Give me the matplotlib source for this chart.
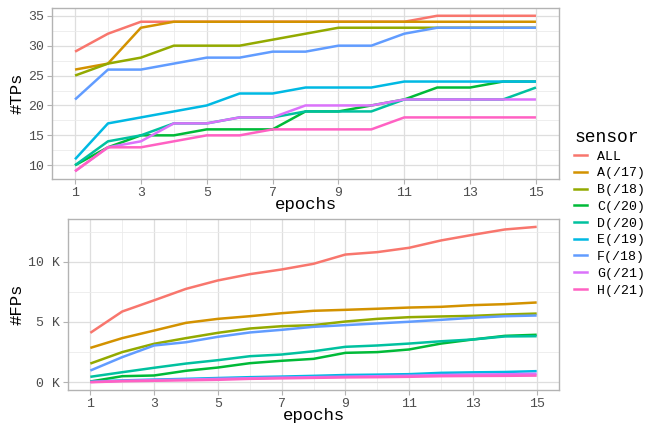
import matplotlib
matplotlib.use("Agg")
import matplotlib.pyplot as plt
from matplotlib.lines import Line2D
from matplotlib.ticker import MultipleLocator, FuncFormatter

plt.rcParams['font.family'] = ['Liberation Mono', 'DejaVu Sans Mono']

epochs = list(range(1, 16))
sensors = ['ALL', 'A(/17)', 'B(/18)', 'C(/20)', 'D(/20)', 'E(/19)', 'F(/18)', 'G(/21)', 'H(/21)']
colors = ['#F8766D', '#D39200', '#93AA00', '#00BA38', '#00C19F',
          '#00B9E3', '#619CFF', '#DB72FB', '#FF61C3']

# true positives per epoch
tps_all = [29, 32, 34, 34, 34, 34, 34, 34, 34, 34, 34, 35, 35, 35, 35]
tps_a = [26, 27, 33, 34, 34, 34, 34, 34, 34, 34, 34, 34, 34, 34, 34]
tps_b = [25, 27, 28, 30, 30, 30, 31, 32, 33, 33, 33, 33, 33, 33, 33]
tps_c = [10, 13, 15, 15, 16, 16, 16, 19, 19, 20, 21, 23, 23, 24, 24]
tps_d = [10, 14, 15, 17, 17, 18, 18, 19, 19, 19, 21, 21, 21, 21, 23]
tps_e = [11, 17, 18, 19, 20, 22, 22, 23, 23, 23, 24, 24, 24, 24, 24]
tps_f = [21, 26, 26, 27, 28, 28, 29, 29, 30, 30, 32, 33, 33, 33, 33]
tps_g = [9, 13, 14, 17, 17, 18, 18, 20, 20, 20, 21, 21, 21, 21, 21]
tps_h = [9, 13, 13, 14, 15, 15, 16, 16, 16, 16, 18, 18, 18, 18, 18]

# false positives per epoch (thousands)
fps_all = [4.1, 5.87, 6.8, 7.75, 8.45, 8.97, 9.36, 9.83, 10.6, 10.8, 11.16, 11.77, 12.24, 12.68, 12.9]
fps_a = [2.85, 3.66, 4.29, 4.93, 5.26, 5.48, 5.73, 5.93, 6.01, 6.1, 6.2, 6.26, 6.4, 6.48, 6.62]
fps_b = [1.55, 2.5, 3.19, 3.66, 4.1, 4.46, 4.65, 4.74, 5.04, 5.26, 5.4, 5.46, 5.51, 5.62, 5.7]
fps_c = [0.06, 0.5, 0.56, 0.95, 1.22, 1.58, 1.78, 1.94, 2.44, 2.5, 2.72, 3.21, 3.55, 3.85, 3.94]
fps_d = [0.45, 0.83, 1.2, 1.55, 1.83, 2.16, 2.3, 2.57, 2.94, 3.05, 3.21, 3.4, 3.55, 3.8, 3.82]
fps_e = [0.05, 0.15, 0.22, 0.28, 0.35, 0.42, 0.47, 0.53, 0.6, 0.63, 0.67, 0.78, 0.82, 0.85, 0.92]
fps_f = [0.97, 2.08, 3.05, 3.32, 3.77, 4.13, 4.35, 4.6, 4.74, 4.88, 5.02, 5.18, 5.35, 5.48, 5.54]
fps_g = [0.02, 0.12, 0.18, 0.22, 0.28, 0.33, 0.38, 0.42, 0.46, 0.5, 0.54, 0.6, 0.63, 0.66, 0.7]
fps_h = [0.0, 0.08, 0.12, 0.16, 0.2, 0.28, 0.32, 0.36, 0.4, 0.42, 0.45, 0.5, 0.52, 0.53, 0.55]

tps = [tps_all, tps_a, tps_b, tps_c, tps_d, tps_e, tps_f, tps_g, tps_h]
fps = [fps_all, fps_a, fps_b, fps_c, fps_d, fps_e, fps_f, fps_g, fps_h]

fig = plt.figure(figsize=(6.56, 4.23), dpi=100)
ax1 = fig.add_axes([52 / 656, 1 - 179 / 423, (559 - 52) / 656, (179 - 8) / 423])
ax2 = fig.add_axes([68 / 656, 1 - 390 / 423, (559 - 68) / 656, (390 - 219) / 423])


def style(ax):
    ax.set_facecolor('white')
    for s in ax.spines.values():
        s.set_color('#B3B3B3')
        s.set_linewidth(1.0)
    ax.grid(True, which='major', color='#DEDEDE', linewidth=0.9)
    ax.grid(True, which='minor', color='#EBEBEB', linewidth=0.6)
    ax.set_axisbelow(True)
    ax.tick_params(which='major', color='#B3B3B3', length=3.5, width=0.8,
                   labelcolor='#4D4D4D', labelsize=9.5, pad=2)
    ax.tick_params(which='minor', length=0)
    ax.xaxis.set_major_locator(MultipleLocator(2))
    ax.xaxis.set_minor_locator(MultipleLocator(1))
    ax.set_xlim(0.3, 15.7)
    ax.set_xlabel('epochs', fontsize=12.5, color='black', labelpad=-1.2)


for vals, c in zip(tps, colors):
    ax1.plot(epochs, vals, color=c, linewidth=1.8, solid_capstyle='butt')
style(ax1)
ax1.set_xticks([1, 3, 5, 7, 9, 11, 13, 15])
ax1.set_ylim(7.7, 36.3)
ax1.yaxis.set_major_locator(MultipleLocator(5))
ax1.yaxis.set_minor_locator(MultipleLocator(2.5))
ax1.set_ylabel('#TPs', fontsize=12.5, color='black', labelpad=3)

for vals, c in zip(fps, colors):
    ax2.plot(epochs, vals, color=c, linewidth=1.8, solid_capstyle='butt')
style(ax2)
ax2.set_xticks([1, 3, 5, 7, 9, 11, 13, 15])
ax2.set_ylim(-0.645, 13.55)
ax2.yaxis.set_major_locator(MultipleLocator(5))
ax2.yaxis.set_minor_locator(MultipleLocator(2.5))
ax2.yaxis.set_major_formatter(FuncFormatter(lambda v, p: f'{v:.0f} K'))
ax2.set_ylabel('#FPs', fontsize=12.5, color='black', labelpad=3)

handles = [Line2D([], [], color=c, linewidth=1.8) for c in colors]
leg = fig.legend(handles, sensors, title='sensor', loc='center left',
                 bbox_to_anchor=(0.857, 0.497), frameon=False,
                 fontsize=9.5, title_fontsize=13, handlelength=1.0,
                 handletextpad=0.75, labelspacing=0.34, alignment='left')

fig.savefig('out.png', dpi=100)
